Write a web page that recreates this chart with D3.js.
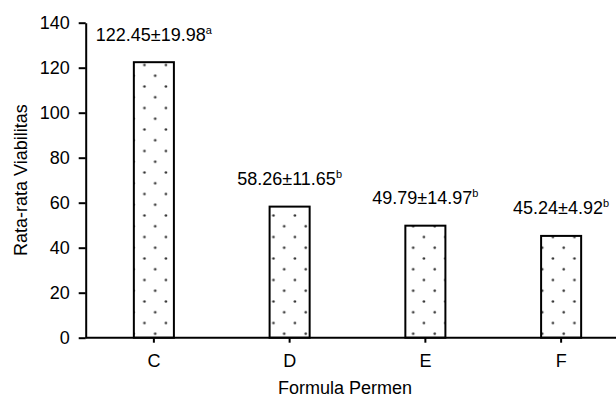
<!DOCTYPE html>
<html><head><meta charset="utf-8">
<script src="https://cdn.jsdelivr.net/npm/d3@7"></script>
<style>
html,body{margin:0;padding:0;background:#fff;}
text{font-family:"Liberation Sans",Arial,sans-serif;fill:#000;}
</style></head>
<body>
<svg id="c" width="616" height="400"></svg>
<script>
const categories = ["C","D","E","F"];
const means = [122.45, 58.26, 49.79, 45.24];
const sds = [19.98, 11.65, 14.97, 4.92];
const letters = ["a","b","b","b"];
const yTicks = [0,20,40,60,80,100,120,140];
const yTitle = "Rata-rata Viabilitas";
const xTitle = "Formula Permen";

const svg = d3.select("#c");
const x0 = 86, x1 = 629, yb = 337.7, yt = 22.7;
const x = d3.scaleBand().domain(categories).range([x0, x1]).paddingInner(0.705).paddingOuter(0.3525);
const y = d3.scaleLinear().domain([0,140]).range([yb, yt]);

const defs = svg.append("defs");
const P = 21.5;
const pat = defs.append("pattern").attr("id","dots").attr("patternUnits","userSpaceOnUse")
  .attr("width",P).attr("height",P).attr("x",0).attr("y",0);
pat.append("rect").attr("width",P).attr("height",P).attr("fill","#fff");
[[4.7,11.2],[15.45,0.45],[15.45,P+0.45]].forEach(([cx,cy]) =>
  pat.append("circle").attr("cx",cx).attr("cy",cy).attr("r",1.3).attr("fill","#333"));

// bars
svg.selectAll("rect.bar").data(categories).enter().append("rect")
  .attr("class","bar")
  .attr("x", d => x(d))
  .attr("width", x.bandwidth())
  .attr("y", (d,i) => y(means[i]))
  .attr("height", (d,i) => yb - y(means[i]))
  .attr("fill","url(#dots)").attr("stroke","#000").attr("stroke-width",2);

// y axis
const ya = svg.append("g").attr("transform",`translate(${x0-0.3},0)`)
  .call(d3.axisLeft(y).tickValues(yTicks).tickSize(7).tickPadding(9).tickSizeOuter(0));
ya.attr("font-family",null).attr("font-size",null);
ya.select(".domain").attr("stroke","#000").attr("stroke-width",2);
ya.selectAll(".tick line").attr("stroke","#000").attr("stroke-width",2);
ya.selectAll("text").attr("font-size",18);

// x axis
const xa = svg.append("g").attr("transform",`translate(0,${yb})`)
  .call(d3.axisBottom(x).tickSize(5).tickPadding(12).tickSizeOuter(0));
xa.attr("font-family",null).attr("font-size",null);
xa.select(".domain").attr("stroke","#000").attr("stroke-width",2).attr("d",`M${x0-0.3},0H${x1}`);
xa.selectAll(".tick line").attr("stroke","#000").attr("stroke-width",2);
xa.selectAll("text").attr("font-size",18);

// labels
const lab = svg.selectAll("text.lab").data(categories).enter().append("text")
  .attr("class","lab")
  .attr("x", d => x(d) + x.bandwidth()/2)
  .attr("y", (d,i) => y(means[i]) - 21.5)
  .attr("text-anchor","middle").attr("font-size",18);
lab.append("tspan").text((d,i) => means[i].toFixed(2) + "\u00B1" + sds[i].toFixed(2));
lab.append("tspan").attr("font-size",11).attr("dy",-7).text((d,i) => letters[i]);

svg.append("text").attr("transform",`translate(27,${(yb+yt)/2}) rotate(-90)`)
  .attr("text-anchor","middle").attr("font-size",18).text(yTitle);
svg.append("text").attr("x",345).attr("y",394)
  .attr("text-anchor","middle").attr("font-size",18).text(xTitle);
</script>
</body></html>
